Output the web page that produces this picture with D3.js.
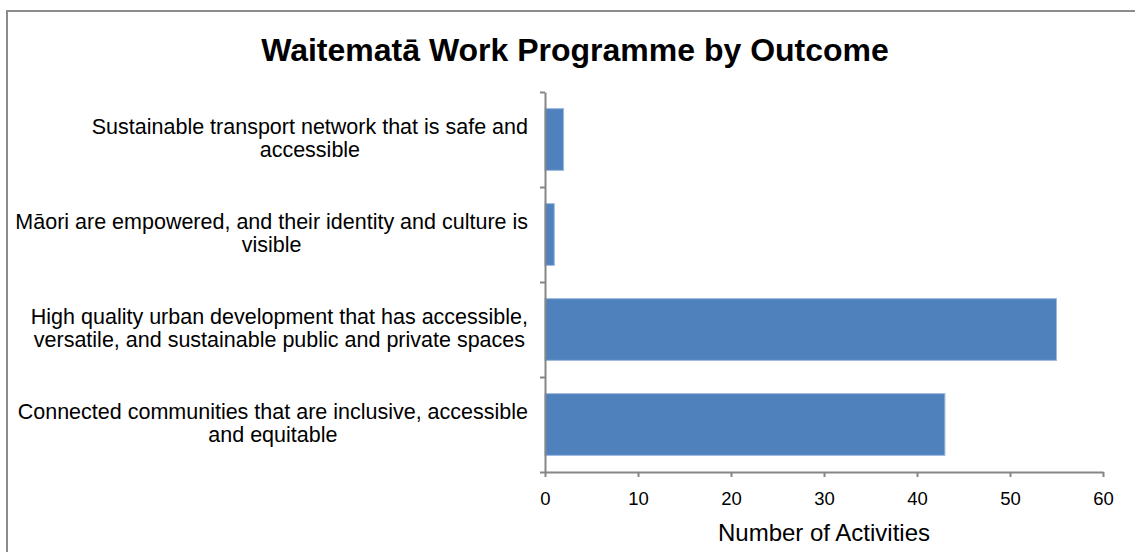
<!DOCTYPE html>
<html>
<head>
<meta charset="utf-8">
<script src="https://cdn.jsdelivr.net/npm/d3@7"></script>
<style>
  body { margin: 0; background: #fff; }
  svg { display: block; font-family: "Liberation Sans", Arial, sans-serif; }
</style>
</head>
<body>
<div id="chart"></div>
<script>
// chart data
const categories = [
  "Sustainable transport network that is safe and accessible",
  "Māori are empowered, and their identity and culture is visible",
  "High quality urban development that has accessible, versatile, and sustainable public and private spaces",
  "Connected communities that are inclusive, accessible and equitable"
];
// wrapped lines as shown in the picture
const categoryLines = [
  ["Sustainable transport network that is safe and", "accessible"],
  ["Māori are empowered, and their identity and culture is", "visible"],
  ["High quality urban development that has accessible,", "versatile, and sustainable public and private spaces"],
  ["Connected communities that are inclusive, accessible", "and equitable"]
];
const activities = [2, 1, 55, 43];
const xTicks = [0, 10, 20, 30, 40, 50, 60];
const titleText = "Waitematā Work Programme by Outcome";
const xTitle = "Number of Activities";

const width = 1135, height = 552;
const plot = { left: 545, right: 1103, top: 92, bottom: 472 };
const axisColor = "#868686";

const svg = d3.select("#chart").append("svg")
  .attr("width", width)
  .attr("height", height);

// outer chart border (runs off the right and bottom edge)
svg.append("rect")
  .attr("x", 7).attr("y", 11)
  .attr("width", width + 10).attr("height", height + 10)
  .attr("fill", "#fff")
  .attr("stroke", "#8c8c8c")
  .attr("stroke-width", 2);

// title
svg.append("text")
  .attr("x", 575).attr("y", 61)
  .attr("text-anchor", "middle")
  .attr("font-size", 32)
  .attr("font-weight", "bold")
  .attr("fill", "#000")
  .text(titleText);

// scales
const x = d3.scaleLinear().domain([0, 60]).range([plot.left, plot.right]);
const y = d3.scaleBand().domain(categories).range([plot.top, plot.bottom])
  .paddingInner(0.35).paddingOuter(0.175);
const yEdges = d3.scaleLinear().domain([0, categories.length]).range([plot.top, plot.bottom]);

// bars
svg.append("g").selectAll("rect")
  .data(categories)
  .join("rect")
  .attr("x", x(0))
  .attr("y", d => y(d))
  .attr("width", (d, i) => x(activities[i]) - x(0))
  .attr("height", y.bandwidth())
  .attr("fill", "#4f81bd")
  .attr("stroke", "#9cb9de")
  .attr("stroke-width", 1);

// y axis: line with ticks on category boundaries
const yAxis = svg.append("g")
  .attr("transform", `translate(${plot.left},0)`)
  .call(d3.axisLeft(yEdges).tickValues(d3.range(categories.length + 1))
    .tickFormat("").tickSize(5).tickSizeOuter(0));
yAxis.select(".domain").attr("stroke", axisColor).attr("stroke-width", 2);
yAxis.selectAll(".tick line").attr("stroke", axisColor).attr("stroke-width", 2);

// x axis
const xAxis = svg.append("g")
  .attr("transform", `translate(0,${plot.bottom})`)
  .call(d3.axisBottom(x).tickValues(xTicks).tickSize(5).tickSizeOuter(0).tickPadding(15));
xAxis.select(".domain").attr("stroke", axisColor).attr("stroke-width", 2);
xAxis.selectAll(".tick line").attr("stroke", axisColor).attr("stroke-width", 2);
xAxis.selectAll(".tick text")
  .attr("font-size", 18.5)
  .attr("font-family", "Liberation Sans, Arial, sans-serif")
  .attr("fill", "#000");

// category labels: block right aligned to the axis, lines centred inside it
const labelRight = 528;
const labelG = svg.append("g");
categories.forEach((c, i) => {
  const cy = y(c) + y.bandwidth() / 2;
  const g = labelG.append("g");
  const texts = categoryLines[i].map((line, j) =>
    g.append("text")
      .attr("y", cy + (j === 0 ? -6 : 17))
      .attr("text-anchor", "middle")
      .attr("font-size", 21.5)
      .attr("fill", "#000")
      .text(line));
  const maxW = d3.max(texts, t => t.node().getComputedTextLength());
  texts.forEach(t => t.attr("x", labelRight - maxW / 2));
});

// x axis title
svg.append("text")
  .attr("x", (plot.left + plot.right) / 2)
  .attr("y", 541)
  .attr("text-anchor", "middle")
  .attr("font-size", 24)
  .attr("fill", "#000")
  .text(xTitle);
</script>
</body>
</html>
